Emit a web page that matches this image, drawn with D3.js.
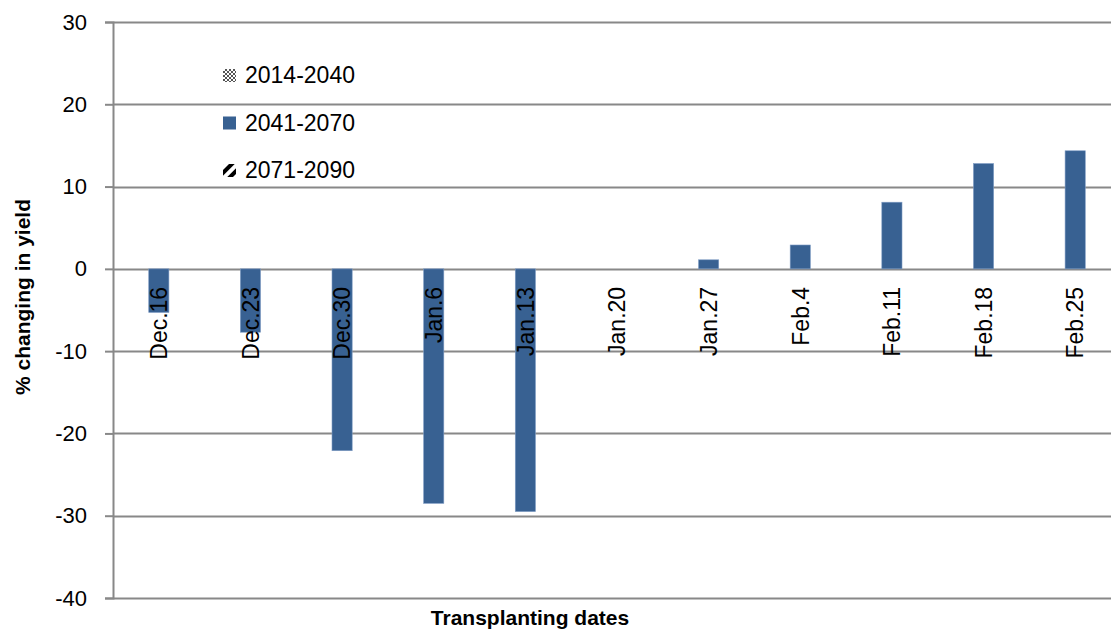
<!DOCTYPE html>
<html>
<head>
<meta charset="utf-8">
<script src="https://cdn.jsdelivr.net/npm/d3@7"></script>
<style>
	body { margin: 0; background: #fff; overflow: hidden; }
	#chart { width: 1111px; height: 630px; }
</style>
</head>
<body>
<div id="chart"></div>
<script>
var id = 'chart';

// data
var dates = ['Dec.16', 'Dec.23', 'Dec.30', 'Jan.6', 'Jan.13', 'Jan.20', 'Jan.27', 'Feb.4', 'Feb.11', 'Feb.18', 'Feb.25'];
var seriesNames = ['2014-2040', '2041-2070', '2071-2090'];
var s2014 = [null, null, null, null, null, null, null, null, null, null, null];
var s2041 = [-5.3, -7.7, -22.1, -28.5, -29.5, 0, 1.1, 2.9, 8.1, 12.8, 14.35];
var s2071 = [null, null, null, null, null, null, null, null, null, null, null];
var yTicks = [30, 20, 10, 0, -10, -20, -30, -40];

var width = 1111, height = 630;
// plot area runs a little past the right edge of the picture
var plotRight = 1121;
var margin = { left: 113, top: 22, bottom: 32 };

var svg = d3.select('#' + id)
	.append('svg')
	.attr('width', width)
	.attr('height', height)
	.style('font-family', '"Liberation Sans", Arial, sans-serif');

var defs = svg.append('defs');
// small checker pattern for 2014-2040
var p1 = defs.append('pattern')
	.attr('id', 'checker')
	.attr('width', 4).attr('height', 4)
	.attr('patternUnits', 'userSpaceOnUse');
p1.append('rect').attr('width', 4).attr('height', 4).attr('fill', '#fff');
p1.append('rect').attr('width', 2).attr('height', 2).attr('fill', '#555');
p1.append('rect').attr('x', 2).attr('y', 2).attr('width', 2).attr('height', 2).attr('fill', '#555');
// wide diagonal pattern for 2071-2090
var p2 = defs.append('pattern')
	.attr('id', 'diag')
	.attr('width', 8).attr('height', 8)
	.attr('patternUnits', 'userSpaceOnUse')
	.attr('patternTransform', 'rotate(45)');
p2.append('rect').attr('width', 8).attr('height', 8).attr('fill', '#fff');
p2.append('rect').attr('width', 4).attr('height', 8).attr('fill', '#000');

var fills = ['url(#checker)', '#386192', 'url(#diag)'];
var values = [s2014, s2041, s2071];

var x0 = d3.scaleBand()
	.domain(dates)
	.range([margin.left, plotRight])
	.paddingInner(0).paddingOuter(0);

var x1 = d3.scaleBand()
	.domain(seriesNames)
	.range([0, x0.bandwidth()])
	.paddingInner(0)
	.paddingOuter(0.77);

var y = d3.scaleLinear()
	.domain([-40, 30])
	.range([height - margin.bottom, margin.top]);

// gridlines
svg.append('g')
	.selectAll('line')
	.data(yTicks)
	.enter().append('line')
	.attr('x1', margin.left)
	.attr('x2', plotRight)
	.attr('y1', function(d) { return Math.round(y(d)) + 0.5; })
	.attr('y2', function(d) { return Math.round(y(d)) + 0.5; })
	.style('stroke', '#888')
	.style('stroke-width', 2);

// y axis
var yAxis = svg.append('g')
	.attr('transform', 'translate(' + margin.left + ',0)')
	.call(d3.axisLeft(y).tickValues(yTicks).tickSize(8).tickPadding(18)
		.tickFormat(function(d) { return String(d); }));
yAxis.select('.domain').style('stroke', '#888').style('stroke-width', 2);
yAxis.selectAll('.tick line').style('stroke', '#888').style('stroke-width', 2);
yAxis.selectAll('.tick text')
	.style('font-size', '22px')
	.style('fill', '#000')
	.style('font-family', '"Liberation Sans", Arial, sans-serif');

// bars
var rows = dates.map(function(d, i) {
	return seriesNames.map(function(s, j) {
		return { date: d, series: s, value: values[j][i], idx: j };
	});
});

var groups = svg.append('g')
	.selectAll('g')
	.data(rows)
	.enter().append('g')
	.attr('transform', function(d, i) { return 'translate(' + x0(dates[i]) + ',0)'; });

groups.selectAll('rect')
	.data(function(d) { return d.filter(function(e) { return e.value !== null && e.value !== 0; }); })
	.enter().append('rect')
	.attr('x', function(d) { return x1(d.series); })
	.attr('width', x1.bandwidth())
	.attr('y', function(d) { return y(Math.max(0, d.value)); })
	.attr('height', function(d) { return Math.abs(y(d.value) - y(0)); })
	.style('fill', function(d) { return fills[d.idx]; })
	.style('stroke', '#7f9cc4')
	.style('stroke-width', 0.6);

// category labels
svg.append('g')
	.selectAll('text')
	.data(dates)
	.enter().append('text')
	.attr('transform', function(d) {
		return 'translate(' + (x0(d) + x0.bandwidth() / 2) + ',' + (y(0) + 18) + ') rotate(-90)';
	})
	.attr('dy', '0.36em')
	.attr('text-anchor', 'end')
	.style('font-size', '23px')
	.style('fill', '#000')
	.text(function(d) { return d; });

// legend
var legend = svg.append('g')
	.selectAll('g')
	.data(seriesNames)
	.enter().append('g')
	.attr('transform', function(d, i) { return 'translate(223,' + (75 + i * 47.5) + ')'; });

legend.append('rect')
	.attr('x', 0).attr('y', -6)
	.attr('width', 13).attr('height', 13)
	.style('fill', function(d, i) { return fills[i]; });

legend.append('text')
	.attr('x', 22)
	.attr('dy', '0.36em')
	.style('font-size', '23px')
	.style('fill', '#000')
	.text(function(d) { return d; });

// axis titles
svg.append('text')
	.attr('x', 530)
	.attr('y', 625)
	.attr('text-anchor', 'middle')
	.style('font-size', '21px')
	.style('font-weight', 'bold')
	.text('Transplanting dates');

svg.append('text')
	.attr('transform', 'translate(22,297) rotate(-90)')
	.attr('dy', '0.36em')
	.attr('text-anchor', 'middle')
	.style('font-size', '21px')
	.style('font-weight', 'bold')
	.text('% changing in yield');
</script>
</body>
</html>
